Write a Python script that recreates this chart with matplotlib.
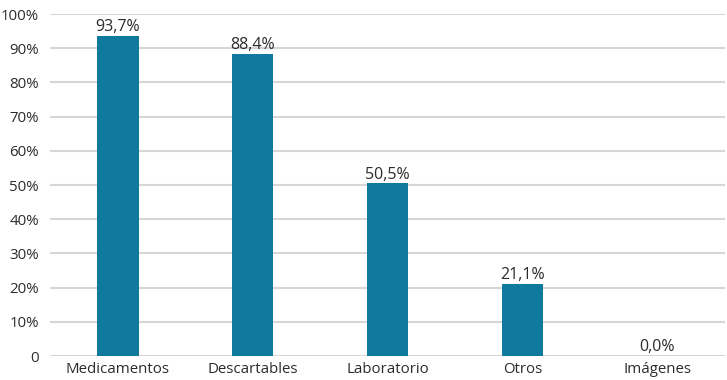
import numpy as np
import matplotlib.pyplot as plt

# Datos
categorias = ['Medicamentos', 'Descartables', 'Laboratorio', 'Otros', 'Imágenes']
porcentajes = [93.7, 88.4, 50.5, 21.1, 0.0]
ticks_y = [0, 10, 20, 30, 40, 50, 60, 70, 80, 90, 100]
etiquetas_y = ['0'] + [f'{t}%' for t in ticks_y[1:]]

plt.rcParams['font.family'] = ['Open Sans', 'DejaVu Sans']

fig = plt.figure(figsize=(7.27, 3.8), dpi=100)
ax = fig.add_axes([0.069, 0.063, 0.928, 0.9])

x = np.arange(len(categorias))
ax.bar(x, porcentajes, width=0.31, color='#0f7a9e', zorder=3)

# Etiquetas de valor
for xi, v in zip(x, porcentajes):
    ax.text(xi, v + 0.2, f'{v:.1f}%'.replace('.', ','), ha='center', va='bottom',
            fontsize=11.5, color='#2b2b2b')

ax.set_xlim(-0.5, 4.5)
ax.set_ylim(0, 100)
ax.set_yticks(ticks_y)
ax.set_yticklabels(etiquetas_y)
ax.set_xticks(x)
ax.set_xticklabels(categorias)
ax.tick_params(axis='both', length=0, labelsize=10.8, colors='#2b2b2b')
ax.tick_params(axis='y', pad=8)
ax.tick_params(axis='x', pad=4)

ax.grid(axis='y', color='#d6d6d6', linewidth=1.5, zorder=0)
for s in ax.spines.values():
    s.set_visible(False)

fig.savefig('out.png', dpi=100)
